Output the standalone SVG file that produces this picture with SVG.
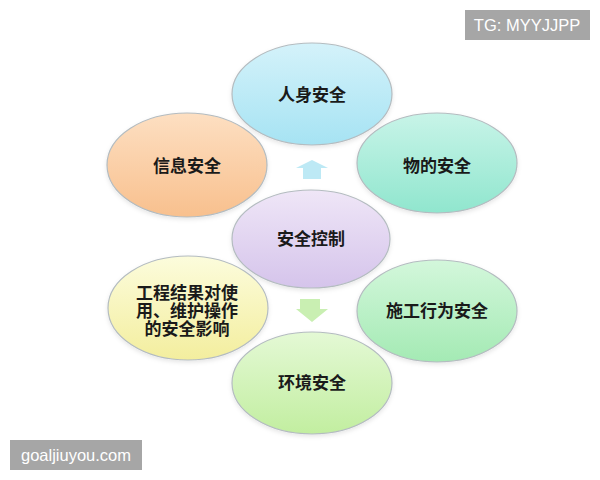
<svg xmlns="http://www.w3.org/2000/svg" width="600" height="480" viewBox="0 0 600 480">
<style>
.node{stroke:#b4bcc0;stroke-width:1.2;filter:url(#sh)}
.lbl{font-family:"Liberation Sans","Noto Sans CJK SC",sans-serif;font-size:17px;font-weight:bold;fill:#1a1a1a;text-anchor:middle;dominant-baseline:central}
.wm{fill:#a6a6a6}
.wmt{font-family:"Liberation Sans",Arial,sans-serif;font-size:16.5px;fill:#ffffff;text-anchor:middle;dominant-baseline:central}
</style>
<defs>
<filter id="sh" x="-10%" y="-10%" width="120%" height="130%">
<feDropShadow dx="0" dy="2" stdDeviation="2" flood-color="#000" flood-opacity="0.1"/>
</filter>
<linearGradient id="gCyan" x1="0" y1="0" x2="0" y2="1"><stop offset="0" stop-color="#d4f2fa"/><stop offset="1" stop-color="#a6e3f3"/></linearGradient>
<linearGradient id="gPeach" x1="0" y1="0" x2="0" y2="1"><stop offset="0" stop-color="#fddfc2"/><stop offset="1" stop-color="#f8c08e"/></linearGradient>
<linearGradient id="gAqua" x1="0" y1="0" x2="0" y2="1"><stop offset="0" stop-color="#c8f4e8"/><stop offset="1" stop-color="#90e6ce"/></linearGradient>
<linearGradient id="gLav" x1="0" y1="0" x2="0" y2="1"><stop offset="0" stop-color="#efe6f7"/><stop offset="1" stop-color="#d5c4eb"/></linearGradient>
<linearGradient id="gYel" x1="0" y1="0" x2="0" y2="1"><stop offset="0" stop-color="#fcfcdc"/><stop offset="1" stop-color="#f3ee9e"/></linearGradient>
<linearGradient id="gMint" x1="0" y1="0" x2="0" y2="1"><stop offset="0" stop-color="#d3f7db"/><stop offset="1" stop-color="#a4eab4"/></linearGradient>
<linearGradient id="gLime" x1="0" y1="0" x2="0" y2="1"><stop offset="0" stop-color="#e4f9d5"/><stop offset="1" stop-color="#c2eea0"/></linearGradient>
</defs>
<rect width="600" height="480" fill="#ffffff"/>

<g id="connectors">
<polygon points="312,160 328,168 321,168 321,179 303,179 303,168 296,168" fill="#bde9f5"/>
<polygon points="300,299 320,299 320,309 328,309 312,322 296,309 300,309" fill="#c9efb2"/>
</g>

<g id="node-renshen">
<ellipse class="node" cx="312" cy="94" rx="80" ry="51" fill="url(#gCyan)"/>
<text class="lbl" x="312" y="95">人身安全</text>
</g>
<g id="node-xinxi">
<ellipse class="node" cx="187" cy="165" rx="80" ry="52" fill="url(#gPeach)"/>
<text class="lbl" x="187" y="166">信息安全</text>
</g>
<g id="node-wude">
<ellipse class="node" cx="437" cy="163" rx="80" ry="50" fill="url(#gAqua)"/>
<text class="lbl" x="437" y="166">物的安全</text>
</g>
<g id="node-kongzhi">
<ellipse class="node" cx="311" cy="239" rx="79" ry="49" fill="url(#gLav)"/>
<text class="lbl" x="311" y="239">安全控制</text>
</g>
<g id="node-gongcheng">
<ellipse class="node" cx="188" cy="308" rx="80" ry="52" fill="url(#gYel)"/>
<text class="lbl" x="187" y="293">工程结果对使</text>
<text class="lbl" x="187" y="311">用、维护操作</text>
<text class="lbl" x="187" y="329">的安全影响</text>
</g>
<g id="node-shigong">
<ellipse class="node" cx="437" cy="311" rx="80" ry="51" fill="url(#gMint)"/>
<text class="lbl" x="437" y="311">施工行为安全</text>
</g>
<g id="node-huanjing">
<ellipse class="node" cx="312" cy="383" rx="80" ry="51" fill="url(#gLime)"/>
<text class="lbl" x="312" y="383">环境安全</text>
</g>

<g id="watermark-tg">
<rect class="wm" x="465" y="10" width="125" height="30"/>
<text class="wmt" x="527" y="25">TG: MYYJJPP</text>
</g>
<g id="watermark-site">
<rect class="wm" x="10" y="440" width="132" height="30"/>
<text class="wmt" x="76" y="455">goaljiuyou.com</text>
</g>
</svg>
